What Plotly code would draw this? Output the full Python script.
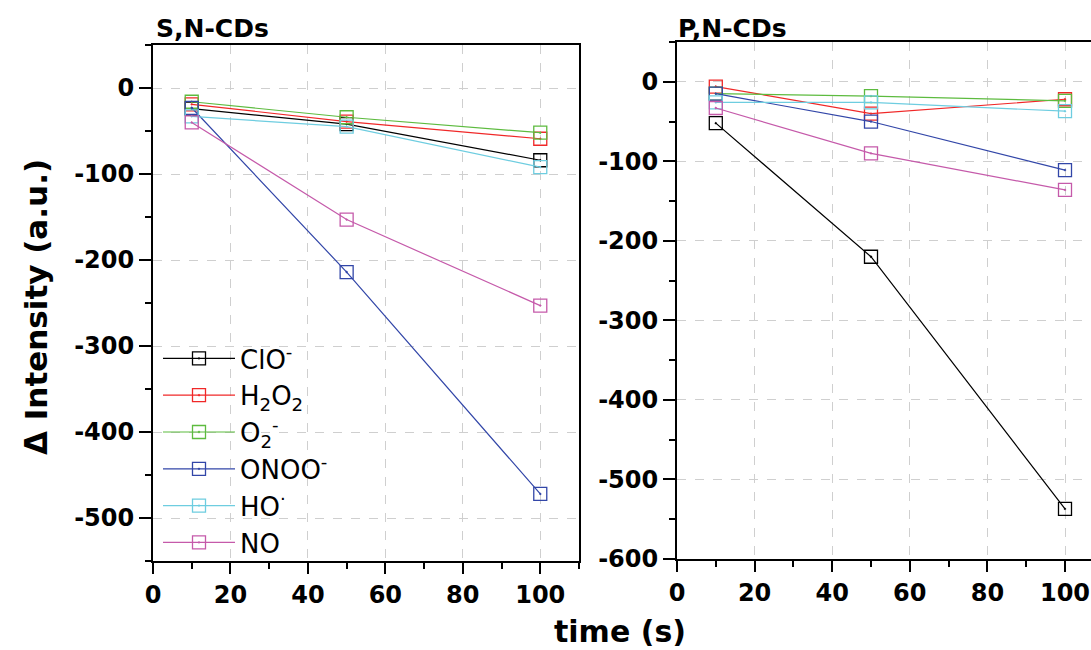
import plotly.graph_objects as go

# ---- data ----
time_s = [10, 50, 100]
species = ["ClO<sup>-</sup>", "H<sub>2</sub>O<sub>2</sub>", "O<sub>2</sub><sup>-</sup>",
           "ONOO<sup>-</sup>", "HO<sup>·</sup>", "NO"]

sn_clo = [-24, -42, -84]
sn_h2o2 = [-19, -39, -59]
sn_o2 = [-16, -34, -52]
sn_onoo = [-23, -214, -472]
sn_ho = [-33, -45, -92]
sn_no = [-40, -153, -253]

pn_clo = [-52, -220, -537]
pn_h2o2 = [-6, -40, -22]
pn_o2 = [-15, -18, -24]
pn_onoo = [-15, -50, -111]
pn_ho = [-26, -26, -37]
pn_no = [-33, -90, -136]

x_ticks = [0, 20, 40, 60, 80, 100]
x_ticklabels = ["0", "20", "40", "60", "80", "100"]
sn_yticks = [0, -100, -200, -300, -400, -500]
sn_yticklabels = ["0", "-100", "-200", "-300", "-400", "-500"]
pn_yticks = [0, -100, -200, -300, -400, -500, -600]
pn_yticklabels = ["0", "-100", "-200", "-300", "-400", "-500", "-600"]

colors = ["#000000", "#F02828", "#5DBB3F", "#3246A8", "#6ECDE0", "#C55AAA"]

sn_series = [sn_clo, sn_h2o2, sn_o2, sn_onoo, sn_ho, sn_no]
pn_series = [pn_clo, pn_h2o2, pn_o2, pn_onoo, pn_ho, pn_no]

fig = go.Figure()

for name, ys, c in zip(species, sn_series, colors):
    fig.add_trace(go.Scatter(
        x=time_s, y=ys, name=name, mode="lines+markers", legendgroup=name,
        line=dict(color=c, width=1.2),
        marker=dict(symbol="square-open-dot", size=13, color=c, line=dict(width=1.3, color=c)),
        xaxis="x", yaxis="y"))

for name, ys, c in zip(species, pn_series, colors):
    fig.add_trace(go.Scatter(
        x=time_s, y=ys, name=name, mode="lines+markers", legendgroup=name, showlegend=False,
        line=dict(color=c, width=1.2),
        marker=dict(symbol="square-open-dot", size=13, color=c, line=dict(width=1.3, color=c)),
        xaxis="x2", yaxis="y2"))

TICKFONT = dict(family="DejaVu Sans", size=24, color="black", weight="bold")
grid = dict(showgrid=True, gridcolor="#CFCFCF", griddash="dash", gridwidth=1)

def main_x(rng, dom, anchor):
    return dict(domain=dom, range=rng, anchor=anchor, tickvals=x_ticks, ticktext=x_ticklabels,
                ticks="outside", ticklen=11, tickwidth=2, tickcolor="black",
                minor=dict(dtick=10, tick0=0, ticks="outside", ticklen=6, tickwidth=2, tickcolor="black", showgrid=False),
                showline=True, linecolor="black", linewidth=2, mirror=True, automargin=False,
                tickfont=TICKFONT, zeroline=False, **grid)

def main_y(rng, dom, anchor, tv, tt):
    return dict(domain=dom, range=rng, anchor=anchor, tickvals=tv, ticktext=tt,
                ticks="outside", ticklen=12, tickwidth=2, tickcolor="black",
                minor=dict(dtick=50, tick0=0, ticks="outside", ticklen=6, tickwidth=2, tickcolor="black", showgrid=False),
                showline=True, linecolor="black", linewidth=2, mirror=True, automargin=False,
                tickfont=TICKFONT, zeroline=False, **grid)

def mirror_x(rng, dom, anchor, over):
    return dict(domain=dom, range=rng, anchor=anchor, overlaying=over, side="top",
                tickvals=x_ticks, ticks="inside", ticklen=11, tickwidth=2, tickcolor="black",
                minor=dict(dtick=10, tick0=0, ticks="inside", ticklen=6, tickwidth=2, tickcolor="black", showgrid=False),
                showticklabels=False, showgrid=False, zeroline=False, showline=False, automargin=False)

def mirror_y(rng, dom, anchor, over, tv):
    return dict(domain=dom, range=rng, anchor=anchor, overlaying=over, side="right",
                tickvals=tv, ticks="inside", ticklen=12, tickwidth=2, tickcolor="black",
                minor=dict(dtick=50, tick0=0, ticks="inside", ticklen=6, tickwidth=2, tickcolor="black", showgrid=False),
                showticklabels=False, showgrid=False, zeroline=False, showline=False, automargin=False)

W, H = 1091, 650
L_dom_x = [153 / W, 579 / W]
L_dom_y = [1 - 561 / H, 1 - 45 / H]
R_dom_x = [677 / W, 1.0]
R_dom_y = [1 - 559 / H, 1 - 42 / H]

fig.update_layout(
    width=W, height=H, margin=dict(l=0, r=0, t=0, b=0, autoexpand=False),
    paper_bgcolor="white", plot_bgcolor="white",
    showlegend=True,
    xaxis=main_x([0, 110], L_dom_x, "y"),
    yaxis=main_y([-550, 50], L_dom_y, "x", sn_yticks, sn_yticklabels),
    xaxis2=main_x([0, 106.7], R_dom_x, "y2"),
    yaxis2=main_y([-600, 50], R_dom_y, "x2", pn_yticks, pn_yticklabels),
    xaxis3=mirror_x([0, 110], L_dom_x, "y", "x"),
    yaxis3=mirror_y([-550, 50], L_dom_y, "x", "y", sn_yticks),
    xaxis4=mirror_x([0, 106.7], R_dom_x, "y2", "x2"),
    yaxis4=mirror_y([-600, 50], R_dom_y, "x2", "y2", pn_yticks),
    legend=dict(x=158 / W, y=1 - 335 / H, xanchor="left", yanchor="top",
                bgcolor="rgba(0,0,0,0)", borderwidth=0, itemwidth=72,
                font=dict(family="DejaVu Sans", size=26, color="black"),
                tracegroupgap=0),
    annotations=[
        dict(text="<b>S,N-CDs</b>", x=154 / W, y=1 - 28 / H, xref="paper", yref="paper",
             xanchor="left", yanchor="middle", showarrow=False,
             font=dict(family="DejaVu Sans", size=25, color="black")),
        dict(text="<b>P,N-CDs</b>", x=676 / W, y=1 - 28 / H, xref="paper", yref="paper",
             xanchor="left", yanchor="middle", showarrow=False,
             font=dict(family="DejaVu Sans", size=25, color="black")),
        dict(text="<b>time (s)</b>", x=620 / W, y=1 - 631 / H, xref="paper", yref="paper",
             xanchor="center", yanchor="middle", showarrow=False,
             font=dict(family="DejaVu Sans", size=30, color="black")),
        dict(text="<b>Δ Intensity (a.u.)</b>", x=36 / W, y=1 - 307 / H, xref="paper", yref="paper",
             xanchor="center", yanchor="middle", showarrow=False, textangle=-90,
             font=dict(family="DejaVu Sans", size=31, color="black")),
    ],
)

fig.write_html("out.html")
